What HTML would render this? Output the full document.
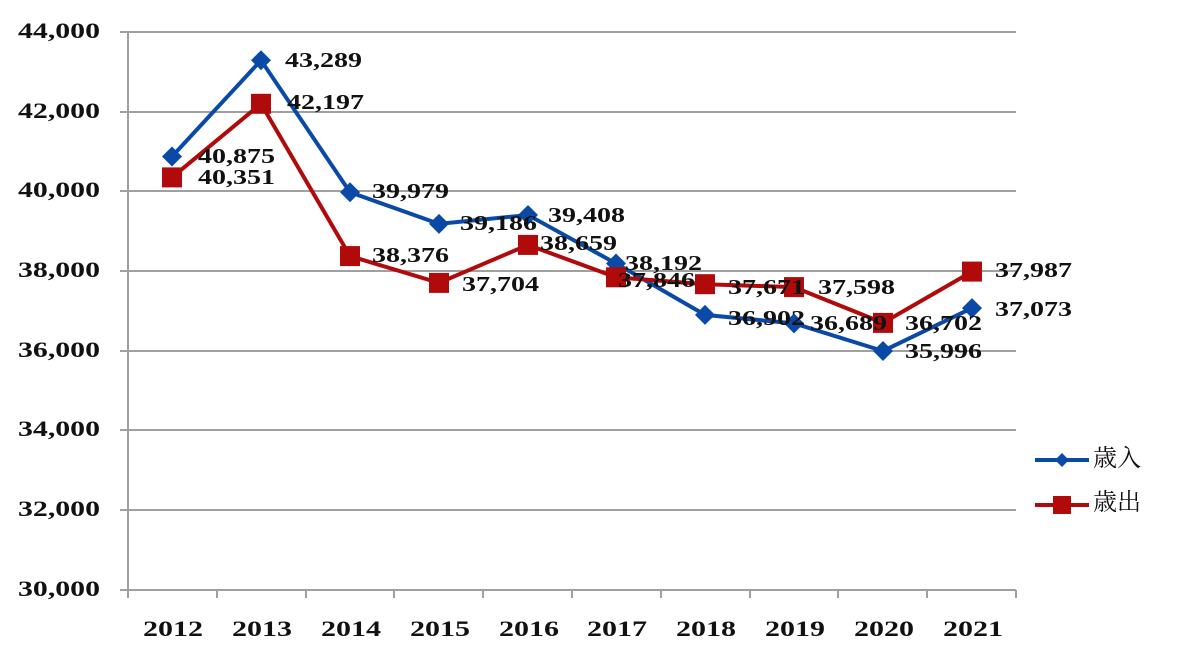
<!DOCTYPE html>
<html><head><meta charset="utf-8"><style>body{margin:0;background:#fff}svg{display:block}</style></head><body>
<svg width="1200" height="660" xmlns="http://www.w3.org/2000/svg" font-family="'Liberation Serif','Noto Serif CJK SC',serif">
<g stroke="#a0a0a0" stroke-width="2">
<line x1="120" y1="32" x2="1016" y2="32"/><line x1="120" y1="112" x2="1016" y2="112"/><line x1="120" y1="191" x2="1016" y2="191"/><line x1="120" y1="271" x2="1016" y2="271"/><line x1="120" y1="351" x2="1016" y2="351"/><line x1="120" y1="430" x2="1016" y2="430"/><line x1="120" y1="510" x2="1016" y2="510"/><line x1="120" y1="590" x2="1016" y2="590"/>
<line x1="128" y1="32" x2="128" y2="598"/>
<line x1="217" y1="590" x2="217" y2="598"/><line x1="306" y1="590" x2="306" y2="598"/><line x1="394" y1="590" x2="394" y2="598"/><line x1="483" y1="590" x2="483" y2="598"/><line x1="572" y1="590" x2="572" y2="598"/><line x1="661" y1="590" x2="661" y2="598"/><line x1="750" y1="590" x2="750" y2="598"/><line x1="838" y1="590" x2="838" y2="598"/><line x1="927" y1="590" x2="927" y2="598"/><line x1="1016" y1="590" x2="1016" y2="598"/>
</g>
<g font-size="22" font-weight="bold" fill="#111" dominant-baseline="middle">
<text x="18" y="33" textLength="82" lengthAdjust="spacingAndGlyphs">44,000</text><text x="18" y="113" textLength="82" lengthAdjust="spacingAndGlyphs">42,000</text><text x="18" y="192" textLength="82" lengthAdjust="spacingAndGlyphs">40,000</text><text x="18" y="272" textLength="82" lengthAdjust="spacingAndGlyphs">38,000</text><text x="18" y="352" textLength="82" lengthAdjust="spacingAndGlyphs">36,000</text><text x="18" y="431" textLength="82" lengthAdjust="spacingAndGlyphs">34,000</text><text x="18" y="511" textLength="82" lengthAdjust="spacingAndGlyphs">32,000</text><text x="18" y="591" textLength="82" lengthAdjust="spacingAndGlyphs">30,000</text>
</g>
<g font-size="22" font-weight="bold" fill="#111">
<text x="143" y="636" textLength="60" lengthAdjust="spacingAndGlyphs">2012</text><text x="232" y="636" textLength="60" lengthAdjust="spacingAndGlyphs">2013</text><text x="321" y="636" textLength="60" lengthAdjust="spacingAndGlyphs">2014</text><text x="410" y="636" textLength="60" lengthAdjust="spacingAndGlyphs">2015</text><text x="499" y="636" textLength="60" lengthAdjust="spacingAndGlyphs">2016</text><text x="587" y="636" textLength="60" lengthAdjust="spacingAndGlyphs">2017</text><text x="676" y="636" textLength="60" lengthAdjust="spacingAndGlyphs">2018</text><text x="765" y="636" textLength="60" lengthAdjust="spacingAndGlyphs">2019</text><text x="854" y="636" textLength="60" lengthAdjust="spacingAndGlyphs">2020</text><text x="943" y="636" textLength="60" lengthAdjust="spacingAndGlyphs">2021</text>
</g>
<polyline fill="none" stroke="#0a4aa6" stroke-width="4" points="172,156.5 261,60.3 350,192.2 439,223.9 528,215 616,263.5 705,314.9 794,323.4 883,351 972,308.1"/>
<g fill="#0a4aa6">
<path d="M172,146.5l10,10l-10,10l-10,-10z"/><path d="M261,50.3l10,10l-10,10l-10,-10z"/><path d="M350,182.2l10,10l-10,10l-10,-10z"/><path d="M439,213.9l10,10l-10,10l-10,-10z"/><path d="M528,205l10,10l-10,10l-10,-10z"/><path d="M616,253.5l10,10l-10,10l-10,-10z"/><path d="M705,304.9l10,10l-10,10l-10,-10z"/><path d="M794,313.4l10,10l-10,10l-10,-10z"/><path d="M883,341l10,10l-10,10l-10,-10z"/><path d="M972,298.1l10,10l-10,10l-10,-10z"/>
</g>
<polyline fill="none" stroke="#b00a0a" stroke-width="4" points="172,177.4 261,103.8 350,256.1 439,282.9 528,244.9 616,277.3 705,284.2 794,287.1 883,322.9 972,271.6"/>
<g fill="#b00a0a">
<rect x="162" y="167.4" width="20" height="20"/><rect x="251" y="93.8" width="20" height="20"/><rect x="340" y="246.1" width="20" height="20"/><rect x="429" y="272.9" width="20" height="20"/><rect x="518" y="234.9" width="20" height="20"/><rect x="606" y="267.3" width="20" height="20"/><rect x="695" y="274.2" width="20" height="20"/><rect x="784" y="277.1" width="20" height="20"/><rect x="873" y="312.9" width="20" height="20"/><rect x="962" y="261.6" width="20" height="20"/>
</g>
<g font-size="21" fill="#111" dominant-baseline="middle" font-weight="bold" lengthAdjust="spacingAndGlyphs">
<text x="285" y="62" textLength="77" lengthAdjust="spacingAndGlyphs">43,289</text><text x="287" y="104" textLength="77" lengthAdjust="spacingAndGlyphs">42,197</text><text x="198" y="158" textLength="77" lengthAdjust="spacingAndGlyphs">40,875</text><text x="198" y="179" textLength="77" lengthAdjust="spacingAndGlyphs">40,351</text><text x="372" y="193" textLength="77" lengthAdjust="spacingAndGlyphs">39,979</text><text x="372" y="257" textLength="77" lengthAdjust="spacingAndGlyphs">38,376</text><text x="460" y="225" textLength="77" lengthAdjust="spacingAndGlyphs">39,186</text><text x="462" y="286" textLength="77" lengthAdjust="spacingAndGlyphs">37,704</text><text x="548" y="217" textLength="77" lengthAdjust="spacingAndGlyphs">39,408</text><text x="540" y="245" textLength="77" lengthAdjust="spacingAndGlyphs">38,659</text><text x="625" y="265" textLength="77" lengthAdjust="spacingAndGlyphs">38,192</text><text x="618" y="282" textLength="77" lengthAdjust="spacingAndGlyphs">37,846</text><text x="728" y="320" textLength="77" lengthAdjust="spacingAndGlyphs">36,902</text><text x="728" y="289" textLength="77" lengthAdjust="spacingAndGlyphs">37,671</text><text x="818" y="289" textLength="77" lengthAdjust="spacingAndGlyphs">37,598</text><text x="810" y="325" textLength="77" lengthAdjust="spacingAndGlyphs">36,689</text><text x="905" y="353" textLength="77" lengthAdjust="spacingAndGlyphs">35,996</text><text x="905" y="325" textLength="77" lengthAdjust="spacingAndGlyphs">36,702</text><text x="995" y="311" textLength="77" lengthAdjust="spacingAndGlyphs">37,073</text><text x="995" y="272" textLength="77" lengthAdjust="spacingAndGlyphs">37,987</text>
</g>
<line x1="1035" y1="460" x2="1089" y2="460" stroke="#0a4aa6" stroke-width="4"/>
<path d="M1062,453l7,7l-7,7l-7,-7z" fill="#0a4aa6"/>
<line x1="1035" y1="505" x2="1089" y2="505" stroke="#b00a0a" stroke-width="4"/>
<rect x="1053" y="496" width="18" height="18" fill="#b00a0a"/>
<g font-size="24" fill="#111" dominant-baseline="middle" font-family="'Noto Serif CJK SC','Noto Sans CJK JP',serif">
<text x="1093" y="460">歳入</text><text x="1093" y="504">歳出</text>
</g>
</svg>
</body></html>
